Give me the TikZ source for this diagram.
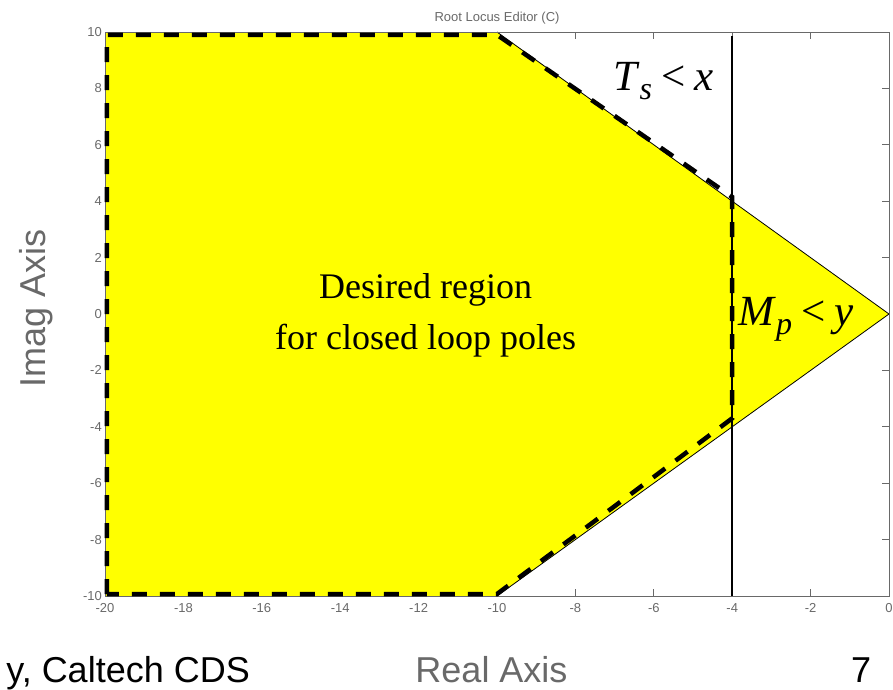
\documentclass[tikz,border=0pt]{standalone}
\usepackage{fontspec}
\setmainfont{Liberation Sans}
\newfontfamily\tms{Liberation Serif}
\definecolor{axgray}{RGB}{105,105,105}
\definecolor{regyellow}{RGB}{255,255,0}

\begin{document}
\begin{tikzpicture}[x=39.2pt,y=28.2pt,
  ticklab/.style={font=\fontsize{13}{13}\selectfont,text=axgray,inner sep=0pt},
  axlab/.style={font=\fontsize{36}{36}\selectfont,text=axgray,inner sep=0pt},
  bigtext/.style={font=\fontsize{36}{36}\selectfont,inner sep=0pt},
  spec/.style={font=\tms\fontsize{43}{43}\selectfont,inner sep=0pt,anchor=base west},
  bound/.style={line width=4.5pt,dash pattern=on 15pt off 13pt}]
\useasboundingbox (-22.679,-13.298) rectangle (0.102,11.135);
% axes ticks and labels
\foreach \x in {-18,-16,...,-2}{
\draw[axgray,line width=.8pt] (\x,-10) -- ++(0,7pt) (\x,10) -- ++(0,-7pt);}
\foreach \y in {-8,-6,...,8}{
\draw[axgray,line width=.8pt] (0,\y) -- ++(-7pt,0) (-20,\y) -- ++(7pt,0);}
\foreach \x in {-20,-18,...,0}
\node[ticklab,anchor=base] (xt\x) at (\x,-10.6) {\x};
\foreach \y in {-10,-8,...,10}
\node[ticklab,anchor=east] (yt\y) at ([xshift=-3pt]-20,\y) {\y};
\node[ticklab,anchor=base] (title) at (-10,10.39) {Root Locus Editor (C)};
% region
\fill[regyellow] (-20,-10) -- (-20,10) -- (-10,10) -- (0,0) -- (-10,-10) -- cycle;
\draw[line width=.8pt] (-10,10) -- (0,0) -- (-10,-10);
\draw[axgray,line width=.8pt] (-20,-10) rectangle (0,10);
\draw[line width=2.5pt] (-4,-10) -- (-4,9.85);
\draw[bound] (-19.95,-9.93) -- (-19.95,9.9) -- (-10,9.9) -- (-4,4.15) -- (-4,-3.7) -- (-10,-9.93) -- cycle;
% texts
\node[font=\tms\fontsize{36}{51}\selectfont,align=center,inner sep=0pt] (region) at (-11.82,-0.035) {Desired region\\for closed loop poles};
\node[spec] (settle) at (-7.04,7.91) {\textit{T}\raisebox{-9pt}{\fontsize{32}{32}\selectfont\textit{s}}\hspace{9pt}<\hspace{9pt}\textit{x}};
\node[spec] (overshoot) at (-3.85,-0.39) {\textit{M}\raisebox{-9pt}{\fontsize{32}{32}\selectfont\textit{p}}\hspace{9pt}<\hspace{9pt}\textit{y}};
\node[axlab,anchor=base] (xlabel) at (-10.14,-13.08) {Real Axis};
\node[axlab,anchor=base,rotate=90] (ylabel) at (-21.53,0.18) {Imag Axis};
\node[bigtext,anchor=base east] (credit) at (-16.30,-13.06) {y, Caltech CDS};
\node[bigtext,anchor=base] (page) at (-0.71,-13.06) {7};
\end{tikzpicture}
\end{document}
